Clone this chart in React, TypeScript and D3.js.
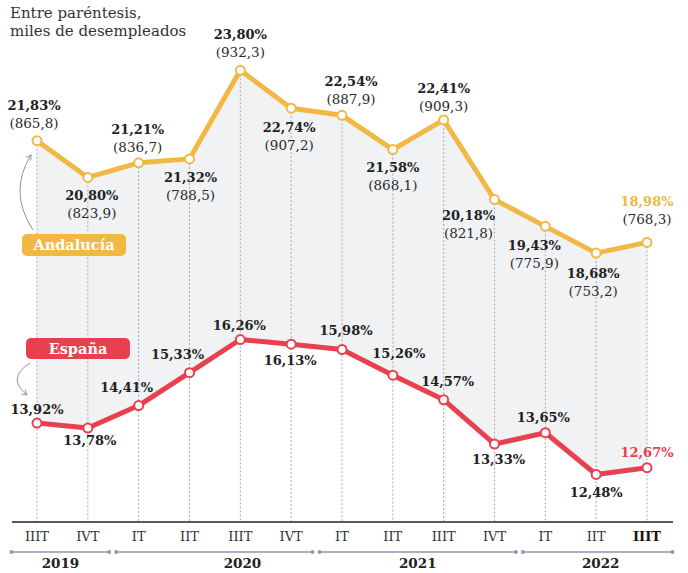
import React from 'react';
import * as d3 from 'd3';

// ---------- data ----------
const quarters = ['IIIT', 'IVT', 'IT', 'IIT', 'IIIT', 'IVT', 'IT', 'IIT', 'IIIT', 'IVT', 'IT', 'IIT', 'IIIT'];
const andalucia = [21.83, 20.8, 21.21, 21.32, 23.8, 22.74, 22.54, 21.58, 22.41, 20.18, 19.43, 18.68, 18.98];
const andaluciaMiles = [865.8, 823.9, 836.7, 788.5, 932.3, 907.2, 887.9, 868.1, 909.3, 821.8, 775.9, 753.2, 768.3];
const espana = [13.92, 13.78, 14.41, 15.33, 16.26, 16.13, 15.98, 15.26, 14.57, 13.33, 13.65, 12.48, 12.67];
const years = ['2019', '2020', '2021', '2022'];
const quartersPerYear = [2, 4, 4, 3];

// ---------- layout (label placement relative to points) ----------
const andLabelLayout: [number, number][] = [
  [-3, -31], [4, 23], [-1, -29], [1, 23], [0, -31], [-2, 24], [9, -29],
  [0, 22], [0, -27], [-26, 20], [-11, 24], [-3, 25], [0, -36],
];
const espLabelLayout: [number, number][] = [
  [0, -9], [2, 17], [-12, -14], [-12, -14], [-1, -10], [-1, 21], [4, -15],
  [6, -17], [4, -14], [4, 20], [-2, -11], [0, 23], [0, -11],
];
const yearLabelShift = [0, 28, 0, 3];

const W = 688;
const H = 573;
const YELLOW = '#F2B845';
const RED = '#E8404E';
const DARK = '#222';
const AXIS_Y = 522;
const FONT = '"DejaVu Serif", serif';

const fmtPct = (v: number) => v.toFixed(2).replace('.', ',') + '%';
const fmtMiles = (v: number) => '(' + v.toFixed(1).replace('.', ',') + ')';

export default function App() {
  const idx = d3.range(quarters.length);
  const x = d3.scalePoint<number>().domain(idx).range([37, 647]);
  const y = d3.scaleLinear().domain([12, 24]).range([920 - 12 * 35.7, 920 - 24 * 35.7]);
  const step = x.step();

  const area = d3
    .area<number>()
    .x((i) => x(i)!)
    .y0((i) => y(espana[i]))
    .y1((i) => y(andalucia[i]));
  const lineA = d3.line<number>().x((i) => x(i)!).y((i) => y(andalucia[i]));
  const lineE = d3.line<number>().x((i) => x(i)!).y((i) => y(espana[i]));

  let start = 0;
  const brackets = years.map((yr, k) => {
    const s = start;
    const e = start + quartersPerYear[k] - 1;
    start = e + 1;
    const x1 = s === 0 ? x(s)! - step / 2 : x(s)! - step / 2 + 3;
    const x2 = e === quarters.length - 1 ? x(e)! + step / 2 : x(e)! + step / 2 - 4;
    return { yr, x1, x2, cx: (x1 + x2) / 2 + yearLabelShift[k] };
  });

  const last = quarters.length - 1;

  return (
    <svg
      width={W}
      height={H}
      viewBox={`0 0 ${W} ${H}`}
      style={{ position: 'absolute', left: 0, top: 0, background: '#fff' }}
      fontFamily={FONT}
    >
      <defs>
        <marker id="arrow" viewBox="0 0 10 10" refX="8" refY="5" markerWidth="7" markerHeight="7" orient="auto">
          <path d="M1,1 L8,5 L1,9" fill="none" stroke="#8893a5" strokeWidth="1.3" />
        </marker>
      </defs>

      <text x={10} y={18} fontSize={15} fill="#333">Entre paréntesis,</text>
      <text x={10} y={36} fontSize={15} fill="#333">miles de desempleados</text>

      <path d={area(idx)!} fill="#f1f2f4" />

      {idx.map((i) => (
        <line
          key={'v' + i}
          x1={x(i)}
          x2={x(i)}
          y1={y(andalucia[i])}
          y2={AXIS_Y}
          stroke="#a3a8b0"
          strokeWidth={1}
          strokeDasharray="2,2"
        />
      ))}

      <line x1={12} x2={673} y1={AXIS_Y} y2={AXIS_Y} stroke={DARK} strokeWidth={1.5} />
      {idx.map((i) => (
        <text
          key={'q' + i}
          x={x(i)}
          y={541}
          textAnchor="middle"
          fontSize={13}
          fill={i === last ? '#111' : '#333'}
          fontWeight={i === last ? 'bold' : 'normal'}
        >
          {quarters[i]}
        </text>
      ))}
      {brackets.map((b) => (
        <g key={b.yr}>
          <line x1={b.x1} x2={b.x2} y1={552} y2={552} stroke="#aab3c1" strokeWidth={2} />
          <circle cx={b.x1} cy={552} r={2} fill="#8f9aab" />
          <circle cx={b.x2} cy={552} r={2} fill="#8f9aab" />
          <text x={b.cx} y={568} textAnchor="middle" fontSize={13.5} fontWeight="bold" fill={DARK}>
            {b.yr}
          </text>
        </g>
      ))}

      <path d={lineA(idx)!} fill="none" stroke={YELLOW} strokeWidth={5} strokeLinejoin="round" />
      <path d={lineE(idx)!} fill="none" stroke={RED} strokeWidth={5} strokeLinejoin="round" />
      {idx.map((i) => (
        <g key={'p' + i}>
          <circle cx={x(i)} cy={y(andalucia[i])} r={4.5} fill="#fff" stroke={YELLOW} strokeWidth={2} />
          <circle cx={x(i)} cy={y(espana[i])} r={4.5} fill="#fff" stroke={RED} strokeWidth={2} />
        </g>
      ))}

      {idx.map((i) => {
        const [dx, dy] = andLabelLayout[i];
        const px = x(i)! + dx;
        const py = y(andalucia[i]) + dy;
        return (
          <g key={'la' + i}>
            <text x={px} y={py} textAnchor="middle" fontSize={13} fontWeight="bold" fill={i === last ? YELLOW : DARK}>
              {fmtPct(andalucia[i])}
            </text>
            <text x={px} y={py + 18} textAnchor="middle" fontSize={13.5} fill="#2a2a2a">
              {fmtMiles(andaluciaMiles[i])}
            </text>
          </g>
        );
      })}

      {idx.map((i) => {
        const [dx, dy] = espLabelLayout[i];
        return (
          <text
            key={'le' + i}
            x={x(i)! + dx}
            y={y(espana[i]) + dy}
            textAnchor="middle"
            fontSize={13}
            fontWeight="bold"
            fill={i === last ? RED : DARK}
          >
            {fmtPct(espana[i])}
          </text>
        );
      })}

      <rect x={22} y={234} width={104} height={22} rx={5} fill={YELLOW} />
      <text x={74} y={250} textAnchor="middle" fontSize={14.5} fontWeight="bold" fill="#fff">Andalucía</text>
      <path d="M33,230 Q8,192 31,155" fill="none" stroke="#8893a5" strokeWidth={1} markerEnd="url(#arrow)" />

      <rect x={26} y={338} width={104} height={21} rx={5} fill={RED} />
      <text x={78} y={354} textAnchor="middle" fontSize={14.5} fontWeight="bold" fill="#fff">España</text>
      <path d="M30,363 Q6,378 27,395" fill="none" stroke="#8893a5" strokeWidth={1} markerEnd="url(#arrow)" />
    </svg>
  );
}
